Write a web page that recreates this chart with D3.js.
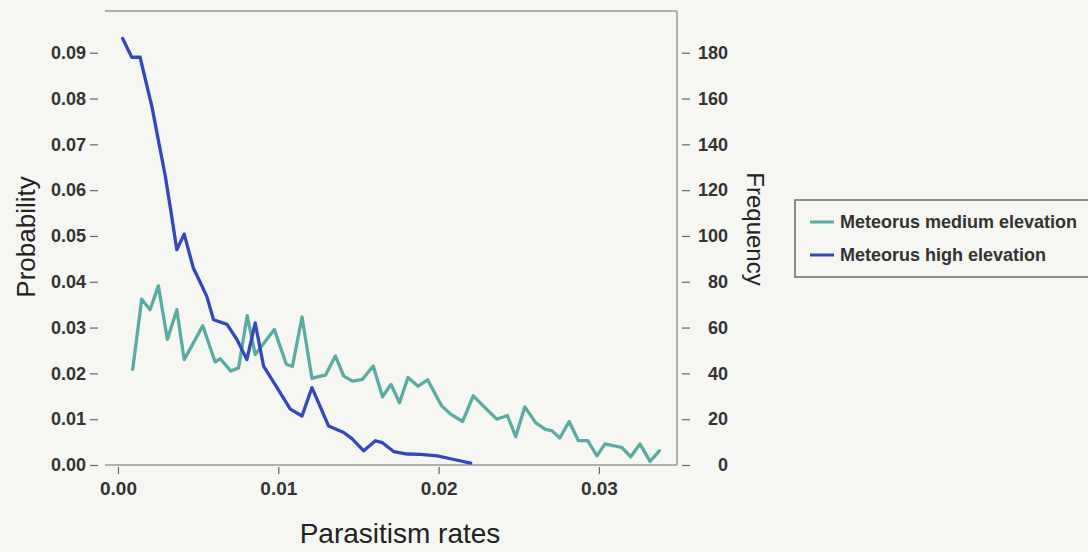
<!DOCTYPE html>
<html>
<head>
<meta charset="utf-8">
<script src="https://cdn.jsdelivr.net/npm/d3@7"></script>
<style>
  html, body { margin: 0; padding: 0; background: #f6f6f2; }
  svg { display: block; }
</style>
</head>
<body>
<svg id="chart" width="1088" height="552"></svg>
<script>
// ---- Data ----
const seriesNames = ["Meteorus medium elevation", "Meteorus high elevation"];

const mediumX = [0.00092,0.00148,0.0020,0.00252,0.00308,0.00367,0.00413,0.00529,0.00606,0.00638,
  0.00704,0.00752,0.00806,0.00856,0.00975,0.0105,0.01088,0.01148,0.0121,0.0125,
  0.01294,0.01356,0.01408,0.01463,0.01525,0.01592,0.0165,0.01703,0.01756,0.01809,
  0.01872,0.01931,0.02019,0.02075,0.0215,0.02216,0.02313,0.02363,0.02429,0.02481,
  0.02538,0.02606,0.02666,0.02706,0.02756,0.02814,0.02872,0.0293,0.02988,0.03038,
  0.03094,0.03144,0.03198,0.03256,0.03319,0.03377];
const mediumY = [0.0209,0.0362,0.0339,0.0391,0.0274,0.0339,0.0230,0.0304,0.0225,0.0232,
  0.0205,0.0212,0.0326,0.0241,0.0296,0.0220,0.0215,0.0323,0.0189,0.0193,
  0.0196,0.0238,0.0194,0.0183,0.0187,0.0216,0.0149,0.0176,0.0136,0.0191,
  0.0172,0.0186,0.0129,0.0111,0.0095,0.0151,0.0117,0.0100,0.0108,0.0062,
  0.0127,0.0092,0.0078,0.0075,0.0059,0.0095,0.0053,0.0053,0.0020,0.0046,
  0.0042,0.0038,0.0018,0.0046,0.0008,0.0031];

const highX = [0.00029,0.00086,0.00138,0.00213,0.00253,0.00294,0.00331,0.00367,0.00413,0.0047,
  0.00506,0.00554,0.00596,0.0068,0.00742,0.00804,0.00856,0.00908,0.00992,0.01075,
  0.01148,0.0121,0.01314,0.01408,0.01461,0.01533,0.01606,0.01648,0.01721,0.01804,
  0.01888,0.01992,0.02096,0.0220];
const highY = [0.0931,0.0890,0.0890,0.0780,0.0707,0.0633,0.0552,0.0470,0.0504,0.0430,
  0.0404,0.0368,0.0317,0.0307,0.0274,0.0230,0.0310,0.0216,0.0169,0.0122,
  0.0107,0.0169,0.0085,0.0071,0.0057,0.0031,0.0053,0.0049,0.0029,0.0024,
  0.0023,0.0020,0.0012,0.0004];

const xTicks = [0.00, 0.01, 0.02, 0.03];
const probTicks = [0.00,0.01,0.02,0.03,0.04,0.05,0.06,0.07,0.08,0.09];
const freqTicks = [0,20,40,60,80,100,120,140,160,180];
const freqPerProb = 2000;

const colors = ["#5aaca2", "#3447bd"];

// ---- Layout ----
const svg = d3.select("#chart");
const L = 105, R = 677, T = 11, B = 465;
const x = d3.scaleLinear().domain([-0.00081, 0.03487]).range([L, R]);
const y = d3.scaleLinear().domain([0, 0.0991]).range([B, T]);
const yF = d3.scaleLinear().domain([0, 0.0991 * freqPerProb]).range([B, T]);

const font = "'Liberation Sans', Arial, sans-serif";
const textCol = "#333";

// frame: top, right, bottom
const frame = svg.append("g").attr("stroke", "#9a9a9a").attr("stroke-width", 1.5).attr("fill", "none");
frame.append("line").attr("x1", L).attr("x2", R).attr("y1", T).attr("y2", T);
frame.append("line").attr("x1", R).attr("x2", R).attr("y1", T).attr("y2", B);
frame.append("line").attr("x1", L).attr("x2", R).attr("y1", B).attr("y2", B);

// left axis
const gl = svg.append("g").attr("transform", "translate(98,0)")
  .call(d3.axisLeft(y).tickValues(probTicks).tickFormat(d3.format(".2f")).tickSize(8).tickPadding(4));
gl.select(".domain").remove();
gl.selectAll(".tick line").attr("stroke", "#666").attr("stroke-width", 1.2);
gl.selectAll(".tick text").attr("font-family", font).attr("font-size", 18).attr("font-weight", "bold").attr("fill", textCol);

// right axis
const gr = svg.append("g").attr("transform", "translate(682,0)")
  .call(d3.axisRight(yF).tickValues(freqTicks).tickSize(8));
gr.select(".domain").remove();
gr.selectAll(".tick line").attr("stroke", "#666").attr("stroke-width", 1.2);
gr.selectAll(".tick text").attr("font-family", font).attr("font-size", 18).attr("font-weight", "bold")
  .attr("fill", textCol).attr("text-anchor", "end").attr("x", 46);

// bottom axis
const gb = svg.append("g").attr("transform", `translate(0,${B + 2})`)
  .call(d3.axisBottom(x).tickValues(xTicks).tickFormat(d3.format(".2f")).tickSize(7).tickPadding(8));
gb.select(".domain").remove();
gb.selectAll(".tick line").attr("stroke", "#666").attr("stroke-width", 1.2);
gb.selectAll(".tick text").attr("font-family", font).attr("font-size", 19).attr("font-weight", "bold").attr("fill", textCol);

// axis titles
svg.append("text").attr("x", 400).attr("y", 543).attr("text-anchor", "middle")
  .attr("font-family", font).attr("font-size", 28).attr("fill", "#222").text("Parasitism rates");
svg.append("text").attr("transform", "translate(35,237) rotate(-90)").attr("text-anchor", "middle")
  .attr("font-family", font).attr("font-size", 26).attr("fill", "#222").text("Probability");
svg.append("text").attr("transform", "translate(747,229) rotate(90)").attr("text-anchor", "middle")
  .attr("font-family", font).attr("font-size", 24).attr("fill", "#222").text("Frequency");

// lines
const line = d3.line().x(d => x(d[0])).y(d => y(d[1]));
const series = [d3.zip(mediumX, mediumY), d3.zip(highX, highY)];
series.forEach((s, i) => {
  svg.append("path").datum(s).attr("d", line).attr("fill", "none")
    .attr("stroke", colors[i]).attr("stroke-width", 3.3).attr("stroke-linejoin", "round").attr("stroke-linecap", "round");
});

// legend
const lg = svg.append("g");
lg.append("rect").attr("x", 795).attr("y", 200).attr("width", 320).attr("height", 77)
  .attr("fill", "none").attr("stroke", "#6a6a6a").attr("stroke-width", 1.5);
seriesNames.forEach((n, i) => {
  const yy = 222 + i * 33;
  lg.append("line").attr("x1", 810).attr("x2", 834).attr("y1", yy).attr("y2", yy)
    .attr("stroke", colors[i]).attr("stroke-width", 3);
  lg.append("text").attr("x", 840).attr("y", yy).attr("dy", "0.35em")
    .attr("font-family", font).attr("font-size", 18).attr("font-weight", "bold").attr("fill", "#333").text(n);
});
</script>
</body>
</html>
